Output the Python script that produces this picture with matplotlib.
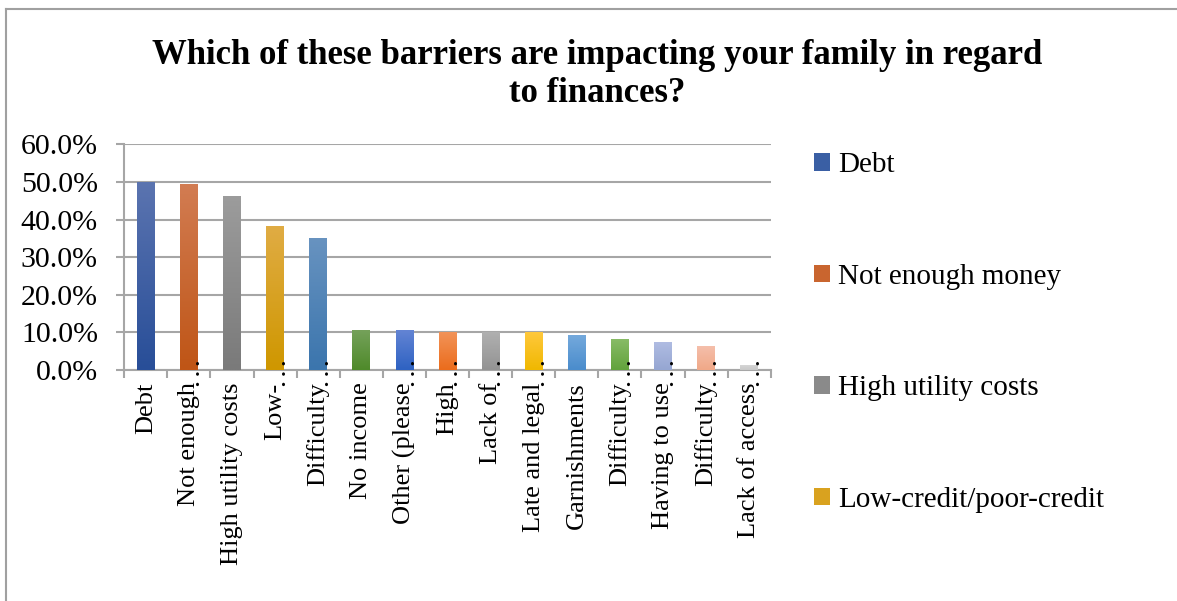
import matplotlib
matplotlib.use("Agg")
import matplotlib.pyplot as plt
import numpy as np
from matplotlib.colors import to_rgb
from matplotlib.lines import Line2D
from matplotlib.patches import Patch

plt.rcParams['font.family'] = ['Liberation Serif', 'DejaVu Serif']

# share of respondents naming each barrier
categories = ["Debt", "Not enough", "High utility costs", "Low-", "Difficulty",
              "No income", "Other (please", "High", "Lack of", "Late and legal",
              "Garnishments", "Difficulty", "Having to use", "Difficulty",
              "Lack of access"]
truncated = [False, True, False, True, True, False, True, True, True, True,
             False, True, True, True, True]
values = [0.500, 0.495, 0.463, 0.383, 0.351, 0.106, 0.106, 0.101, 0.100,
          0.101, 0.093, 0.082, 0.074, 0.064, 0.013]
legend_names = ["Debt", "Not enough money", "High utility costs",
                "Low-credit/poor-credit"]

# top / bottom shade of each bar's gradient
tops = ["#5b74b0", "#d27c52", "#9c9c9c", "#e0ac44", "#6893c0", "#75a15a",
        "#6384d4", "#f29358", "#b0b0b0", "#ffc83c", "#74a9dc", "#88bb66",
        "#b0bce2", "#f5c0ac", "#d6d6d6"]
bottoms = ["#284e98", "#bf5516", "#7a7a7a", "#cf9700", "#3b75ad", "#4e8a2a",
           "#2e62c2", "#eb6c1c", "#939393", "#f0b800", "#4a8ccc", "#62a33c",
           "#95a6d2", "#f0a888", "#c8c8c8"]

fig = plt.figure(figsize=(11.77, 6.01), dpi=100)
ax = fig.add_axes([0.1056, 0.3844, 0.5492, 0.3755])

x = np.arange(len(values))
bars = ax.bar(x, values, width=0.41, color=bottoms, zorder=2)
for b, top, bot in zip(bars, tops, bottoms):
    c1 = np.array(to_rgb(top))
    c2 = np.array(to_rgb(bot))
    t = np.linspace(0, 1, 64)[:, None]
    grad = (c1 * (1 - t) + c2 * t)[:, None, :]
    x0 = b.get_x()
    im = ax.imshow(grad, extent=[x0, x0 + b.get_width(), 0, b.get_height()],
                   aspect='auto', zorder=3, interpolation='bilinear')
    im.set_clip_path(b)

ax.set_xlim(-0.5, len(values) - 0.5)
ax.set_ylim(0, 0.6)
ax.set_yticks(np.arange(0, 0.61, 0.1))
ax.set_yticklabels(["%.1f%%" % (v * 100) for v in np.arange(0, 0.61, 0.1)],
                   fontsize=21.5)
ax.grid(axis='y', color='#a6a6a6', linewidth=1.5, zorder=0)
ax.set_axisbelow(True)
ax.tick_params(axis='y', length=6, width=1.5, color='#a6a6a6', pad=13)

ax.set_xticks(x)
ax.set_xticklabels(categories, rotation=90, fontsize=19)
ax.set_xticks(np.arange(-0.5, len(values), 1), minor=True)
ax.tick_params(axis='x', which='major', length=0, pad=9)
ax.tick_params(axis='x', which='minor', length=6, width=1.5, color='#a6a6a6')

for s in ['top', 'right']:
    ax.spines[s].set_visible(False)
for s in ['left', 'bottom']:
    ax.spines[s].set_color('#a6a6a6')
    ax.spines[s].set_linewidth(1.5)

# ellipsis of the shortened category names
for i, cut in enumerate(truncated):
    if cut:
        ax.annotate(". . .", xy=(i, 0), xytext=(4.2, -2), textcoords='offset points',
                    rotation=90, ha='center', va='center', fontsize=15,
                    fontweight='bold', annotation_clip=False)

handles = [Patch(facecolor=c) for c in ["#3a5fa4", "#c9652f", "#8a8a8a", "#d9a21f"]]
fig.legend(handles, legend_names, loc='upper left', bbox_to_anchor=(0.669, 0.79),
           frameon=False, fontsize=21, handlelength=0.55, handleheight=0.55,
           handletextpad=0.3, labelspacing=2.93)

fig.text(0.507, 0.935, "Which of these barriers are impacting your family in regard\nto finances?",
         ha='center', va='top', fontsize=25, fontweight='bold', linespacing=1.2)

# chart area border
fig.add_artist(Line2D([6 / 1177, 6 / 1177], [0, 1 - 9 / 601], color='#a0a0a0', linewidth=1.5))
fig.add_artist(Line2D([6 / 1177, 1], [1 - 9 / 601, 1 - 9 / 601], color='#a0a0a0', linewidth=1.5))

fig.savefig("out.png", dpi=100)
